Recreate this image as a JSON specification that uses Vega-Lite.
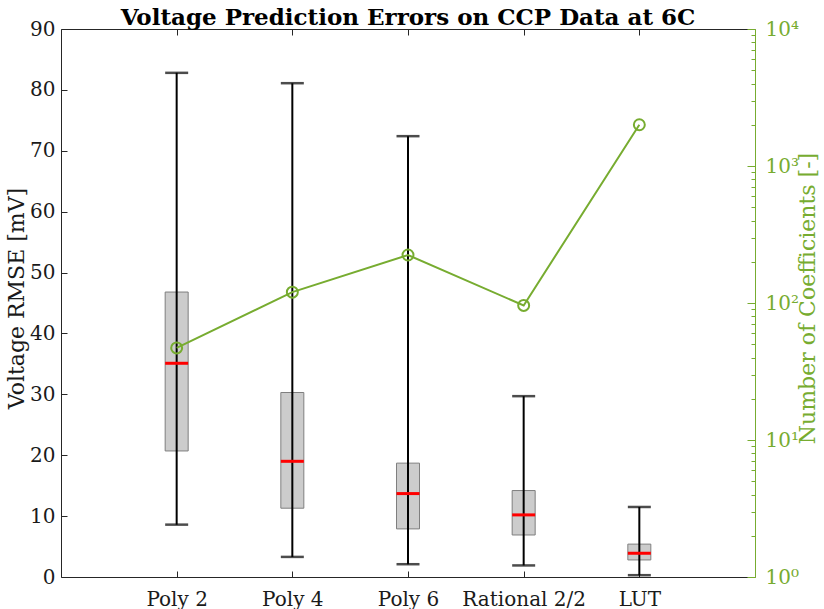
{
  "$schema": "https://vega.github.io/schema/vega-lite/v6.json",
  "width": 694,
  "height": 548,
  "autosize": {"type": "none"},
  "padding": {"left": 61, "top": 29, "right": 69, "bottom": 32},
  "background": "white",
  "title": {
    "text": "Voltage Prediction Errors on CCP Data at 6C",
    "font": "DejaVu Serif",
    "fontSize": 23,
    "fontWeight": "bold",
    "color": "#000000",
    "anchor": "middle",
    "frame": "group",
    "baseline": "alphabetic",
    "offset": 7,
    "dy": 36
  },
  "config": {
    "view": {"stroke": null},
    "axis": {"labelFont": "DejaVu Serif", "titleFont": "DejaVu Serif", "grid": false, "titleFontWeight": "normal"}
  },
  "data": {
    "values": [
      {"model": "Poly 2", "min": 8.6, "q1": 20.7, "median": 35.1, "q3": 46.8, "max": 82.8, "coef": 47},
      {"model": "Poly 4", "min": 3.3, "q1": 11.3, "median": 19.0, "q3": 30.3, "max": 81.1, "coef": 120},
      {"model": "Poly 6", "min": 2.1, "q1": 7.9, "median": 13.7, "q3": 18.7, "max": 72.4, "coef": 224},
      {"model": "Rational 2/2", "min": 1.9, "q1": 6.9, "median": 10.2, "q3": 14.2, "max": 29.7, "coef": 96},
      {"model": "LUT", "min": 0.3, "q1": 2.8, "median": 3.9, "q3": 5.4, "max": 11.5, "coef": 2000}
    ]
  },
  "layer": [
    {
      "encoding": {
        "x": {
          "field": "model", "type": "nominal", "sort": null,
          "scale": {"type": "point", "padding": 1},
          "axis": {
            "orient": "bottom", "title": null, "labelAngle": 0,
            "labelFontSize": 20, "labelColor": "#1a1a1a",
            "domainColor": "#262626", "tickColor": "#262626",
            "tickSize": -6, "labelPadding": 18
          }
        }
      },
      "layer": [
        {
          "mark": {"type": "bar", "width": 23, "fill": "#cccccc", "stroke": "#7f7f7f", "strokeWidth": 1},
          "encoding": {
            "y": {
              "field": "q1", "type": "quantitative",
              "scale": {"domain": [0, 90], "nice": false, "zero": false},
              "axis": {
                "orient": "left", "title": "Voltage RMSE [mV]", "values": [0,10,20,30,40,50,60,70,80,90],
                "labelFontSize": 20, "labelColor": "#1a1a1a", "titleFontSize": 22, "titleColor": "#1a1a1a",
                "domainColor": "#262626", "tickColor": "#262626", "tickSize": -6, "labelPadding": 12,
                "titleAngle": -90, "titleX": -38, "titleY": 269, "titleBaseline": "alphabetic", "titleAlign": "center"
              }
            },
            "y2": {"field": "q3"}
          }
        },
        {
          "mark": {"type": "rule", "color": "#000000", "strokeWidth": 2},
          "encoding": {"y": {"field": "min", "type": "quantitative"}, "y2": {"field": "max"}}
        },
        {
          "mark": {"type": "tick", "color": "#000000", "size": 23, "thickness": 2.5},
          "encoding": {"y": {"field": "min", "type": "quantitative"}}
        },
        {
          "mark": {"type": "tick", "color": "#000000", "size": 23, "thickness": 2.5},
          "encoding": {"y": {"field": "max", "type": "quantitative"}}
        },
        {
          "mark": {"type": "tick", "color": "#ff0000", "size": 23, "thickness": 3, "opacity": 1},
          "encoding": {"y": {"field": "median", "type": "quantitative"}}
        }
      ]
    },
    {
      "encoding": {
        "x": {
          "field": "model", "type": "nominal", "sort": null,
          "scale": {"type": "point", "padding": 1},
          "axis": {"orient": "top", "title": null, "labels": false, "domainColor": "#262626", "tickColor": "#262626", "tickSize": -6}
        },
        "y": {
          "field": "coef", "type": "quantitative",
          "scale": {"type": "log", "domain": [1, 10000], "nice": false},
          "axis": {
            "orient": "right", "title": "Number of Coefficients [-]",
            "values": [1,2,3,4,5,6,7,8,9,10,20,30,40,50,60,70,80,90,100,200,300,400,500,600,700,800,900,1000,2000,3000,4000,5000,6000,7000,8000,9000,10000],
            "labelExpr": "datum.value == 1 ? '10⁰' : datum.value == 10 ? '10¹' : datum.value == 100 ? '10²' : datum.value == 1000 ? '10³' : datum.value == 10000 ? '10⁴' : ''",
            "labelFontSize": 20, "labelColor": "#77AC30", "titleFontSize": 22, "titleColor": "#77AC30",
            "domainColor": "#77AC30", "tickColor": "#77AC30",
            "tickSize": {"condition": {"test": "indexof([1,10,100,1000,10000], datum.value) >= 0", "value": -8}, "value": -4},
            "labelPadding": 18, "labelOverlap": false,
            "titleAngle": -90, "titleX": 59, "titleY": 269, "titleBaseline": "alphabetic", "titleAlign": "center"
          }
        }
      },
      "layer": [
        {"mark": {"type": "line", "color": "#77AC30", "strokeWidth": 2}},
        {"mark": {"type": "point", "shape": "circle", "filled": false, "color": "#77AC30", "strokeWidth": 2, "size": 120, "opacity": 1}}
      ]
    }
  ],
  "resolve": {"scale": {"y": "independent"}, "axis": {"x": "independent"}}
}
